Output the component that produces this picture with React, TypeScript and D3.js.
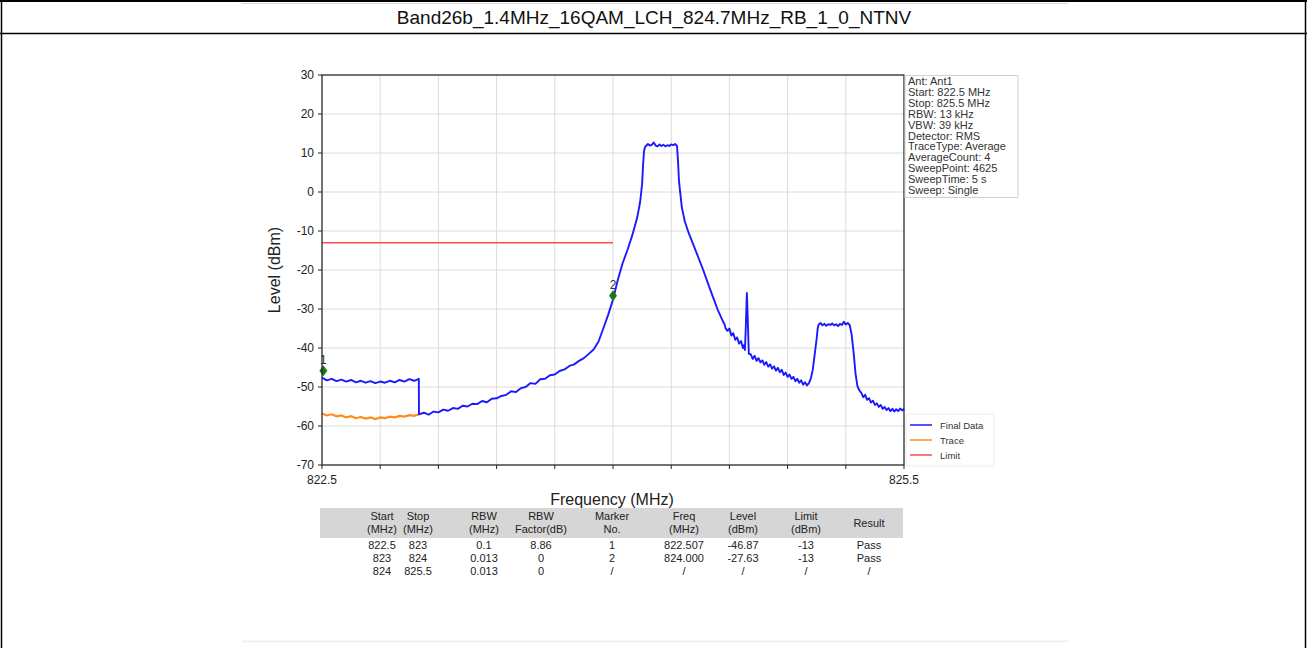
import React from "react";
import * as d3 from "d3";

const TITLE = "Band26b_1.4MHz_16QAM_LCH_824.7MHz_RB_1_0_NTNV";

const yTicks = [30, 20, 10, 0, -10, -20, -30, -40, -50, -60, -70];
const xTicks = [822.5, 822.8, 823.1, 823.4, 823.7, 824.0, 824.3, 824.6, 824.9, 825.2, 825.5];
const xTickLabels = ["822.5", "", "", "", "", "", "", "", "", "", "825.5"];

// Final Data (blue) – frequency MHz, level dBm
const finalData: [number, number][] = [
  [822.5, -47.6], [822.525, -48.3], [822.55, -47.9], [822.575, -48.5], [822.6, -48.1],
  [822.625, -48.6], [822.65, -48.2], [822.675, -48.8], [822.7, -48.4], [822.725, -48.9],
  [822.75, -48.5], [822.775, -49.0], [822.8, -48.6], [822.825, -48.9], [822.85, -48.4],
  [822.875, -48.8], [822.9, -48.2], [822.925, -48.6], [822.95, -48.0], [822.975, -48.4],
  [822.999, -47.9],
  [823.0, -57.0], [823.025, -56.6], [823.05, -57.1], [823.075, -56.3], [823.1, -56.5],
  [823.125, -55.8], [823.15, -56.1], [823.175, -55.4], [823.2, -55.6], [823.225, -54.8],
  [823.25, -55.0], [823.275, -54.3], [823.3, -54.4], [823.325, -53.6], [823.35, -53.9],
  [823.375, -53.0], [823.4, -52.9], [823.425, -52.3], [823.45, -52.0], [823.475, -51.1],
  [823.5, -51.3], [823.525, -50.3], [823.55, -50.0], [823.575, -49.0], [823.6, -49.2],
  [823.625, -48.0], [823.65, -47.9], [823.675, -47.0], [823.7, -46.8], [823.725, -45.9],
  [823.75, -45.5], [823.775, -44.6], [823.8, -44.2], [823.825, -43.3], [823.85, -42.6],
  [823.875, -41.5], [823.9, -40.4], [823.925, -38.4], [823.95, -35.0], [823.975, -31.5],
  [824.0, -27.6], [824.025, -22.5], [824.05, -18.2], [824.075, -14.8], [824.1, -11.0],
  [824.125, -6.5], [824.14, -2.5], [824.15, 2.0], [824.155, 7.0], [824.16, 10.5],
  [824.165, 11.5], [824.17, 11.8], [824.18, 12.3], [824.19, 11.9], [824.2, 12.1],
  [824.21, 12.7], [824.22, 11.9], [824.23, 11.7], [824.24, 12.2], [824.25, 11.8],
  [824.26, 12.1], [824.27, 11.7], [824.28, 12.0], [824.29, 11.8], [824.3, 12.2],
  [824.31, 12.0], [824.32, 12.3], [824.33, 11.8], [824.335, 8.0], [824.34, 3.0],
  [824.345, 0.5], [824.355, -4.0], [824.37, -7.5], [824.39, -10.5], [824.41, -13.0],
  [824.44, -16.8], [824.465, -20.0], [824.49, -23.5], [824.515, -26.9], [824.54, -30.2],
  [824.565, -33.0], [824.575, -33.9], [824.58, -34.9], [824.59, -35.6], [824.6, -35.0],
  [824.61, -36.8], [824.62, -36.2], [824.63, -37.9], [824.64, -37.3], [824.65, -38.9],
  [824.66, -38.2], [824.67, -40.0], [824.675, -39.3], [824.68, -40.5], [824.685, -34.0],
  [824.69, -25.9], [824.695, -33.0], [824.7, -41.5], [824.71, -41.6], [824.72, -42.8],
  [824.73, -42.0], [824.74, -43.3], [824.75, -42.6], [824.76, -43.7], [824.77, -43.2],
  [824.78, -44.3], [824.79, -43.6], [824.8, -44.8], [824.81, -44.2], [824.82, -45.3],
  [824.83, -44.7], [824.84, -45.8], [824.85, -45.1], [824.86, -46.2], [824.87, -45.6],
  [824.88, -46.9], [824.89, -46.3], [824.9, -47.4], [824.91, -46.8], [824.92, -47.9],
  [824.93, -47.4], [824.94, -48.5], [824.95, -47.9], [824.96, -48.9], [824.97, -48.3],
  [824.98, -49.4], [824.99, -48.8], [825.0, -49.6], [825.01, -49.0], [825.02, -47.8],
  [825.03, -45.5], [825.04, -41.5], [825.05, -37.5], [825.055, -35.0], [825.06, -34.0],
  [825.07, -33.6], [825.08, -34.2], [825.09, -33.8], [825.1, -34.3], [825.11, -33.9],
  [825.12, -34.1], [825.13, -33.7], [825.14, -34.2], [825.15, -33.9], [825.16, -34.4],
  [825.17, -33.8], [825.18, -34.1], [825.19, -33.3], [825.2, -34.0], [825.21, -33.6],
  [825.22, -34.1], [825.23, -36.5], [825.24, -41.0], [825.25, -46.5], [825.26, -49.8],
  [825.27, -50.9], [825.28, -51.5], [825.29, -52.6], [825.3, -52.0], [825.31, -53.3],
  [825.32, -52.9], [825.33, -54.0], [825.34, -53.5], [825.35, -54.6], [825.36, -54.2],
  [825.37, -55.1], [825.38, -54.6], [825.39, -55.6], [825.4, -55.1], [825.41, -55.9],
  [825.42, -55.4], [825.43, -56.2], [825.44, -55.6], [825.45, -56.3], [825.46, -55.7],
  [825.47, -56.2], [825.48, -55.5], [825.49, -56.0], [825.5, -55.6],
];

// Trace (orange)
const traceData: [number, number][] = [
  [822.5, -56.8], [822.525, -57.3], [822.55, -57.0], [822.575, -57.5], [822.6, -57.3],
  [822.625, -57.8], [822.65, -57.5], [822.675, -58.0], [822.7, -57.7], [822.725, -58.1],
  [822.75, -57.8], [822.775, -58.2], [822.8, -57.8], [822.825, -58.0], [822.85, -57.6],
  [822.875, -57.8], [822.9, -57.4], [822.925, -57.6], [822.95, -57.2], [822.975, -57.4],
  [823.0, -57.0],
];

// Limit (red)
const limitData: [number, number][] = [[822.5, -13], [824.0, -13]];

const markerNo = [1, 2];
const markerFreq = [822.507, 824.0];
const markerLevel = [-46.87, -27.63];

const infoLines = [
  "Ant: Ant1",
  "Start: 822.5 MHz",
  "Stop: 825.5 MHz",
  "RBW: 13 kHz",
  "VBW: 39 kHz",
  "Detector: RMS",
  "TraceType: Average",
  "AverageCount: 4",
  "SweepPoint: 4625",
  "SweepTime: 5 s",
  "Sweep: Single",
];

const legendLabels = ["Final Data", "Trace", "Limit"];
const legendColors = ["#1a1aff", "#ff8c1a", "#ff4d4d"];

const tableHeader: string[][] = [
  ["Start", "(MHz)"], ["Stop", "(MHz)"], ["RBW", "(MHz)"], ["RBW", "Factor(dB)"],
  ["Marker", "No."], ["Freq", "(MHz)"], ["Level", "(dBm)"], ["Limit", "(dBm)"], ["Result"],
];
const tableRows: string[][] = [
  ["822.5", "823", "0.1", "8.86", "1", "822.507", "-46.87", "-13", "Pass"],
  ["823", "824", "0.013", "0", "2", "824.000", "-27.63", "-13", "Pass"],
  ["824", "825.5", "0.013", "0", "/", "/", "/", "/", "/"],
];

const FONT = "'Liberation Sans', Arial, sans-serif";
const COL_X = [382, 418, 484, 541, 612, 684, 743, 806, 869];

export default function App() {
  const W = 1307, H = 648;
  const x = d3.scaleLinear().domain([822.5, 825.5]).range([322, 904]);
  const y = d3.scaleLinear().domain([-70, 30]).range([465, 75]);
  const line = d3.line<[number, number]>().x((d) => x(d[0])).y((d) => y(d[1]));

  return (
    <div style={{ position: "absolute", left: 0, top: 0 }}>
      <svg width={W} height={H} style={{ display: "block", background: "#fff" }} fontFamily={FONT}>
        {/* outer document table */}
        <line x1={0} x2={W} y1={1} y2={1} stroke="#000" strokeWidth={2} />
        <line x1={0} x2={W} y1={33.5} y2={33.5} stroke="#000" strokeWidth={1.5} />
        <line x1={1.5} x2={1.5} y1={0} y2={H} stroke="#000" strokeWidth={1.5} />
        <line x1={1305.5} x2={1305.5} y1={0} y2={H} stroke="#000" strokeWidth={1.5} />
        <line x1={242} x2={1068} y1={3.5} y2={3.5} stroke="#d8d8d8" strokeWidth={1} />
        <line x1={242} x2={1068} y1={641.5} y2={641.5} stroke="#f0f0f0" strokeWidth={2} />
        <text x={654} y={24} textAnchor="middle" fontSize={19} fill="#111">{TITLE}</text>

        {/* grid */}
        {yTicks.map((t) => (
          <line key={"gy" + t} x1={322} x2={904} y1={y(t)} y2={y(t)} stroke="#dcdcdc" strokeWidth={1} />
        ))}
        {xTicks.map((t) => (
          <line key={"gx" + t} x1={x(t)} x2={x(t)} y1={75} y2={465} stroke="#dcdcdc" strokeWidth={1} />
        ))}

        {/* traces */}
        <path d={line(traceData) || ""} fill="none" stroke="#ff8c1a" strokeWidth={2.2} />
        <path d={line(finalData) || ""} fill="none" stroke="#1a1aff" strokeWidth={1.9} strokeLinejoin="round" />
        <path d={line(limitData) || ""} fill="none" stroke="#ff4d4d" strokeWidth={1.5} />

        {/* markers */}
        {markerNo.map((n, i) => {
          const cx = x(markerFreq[i]);
          const cy = y(markerLevel[i]) - 4;
          return (
            <g key={"m" + n}>
              <path d={`M${cx},${cy - 5.5}L${cx + 4},${cy}L${cx},${cy + 5.5}L${cx - 4},${cy}Z`} fill="#1a7a1a" />
              <text x={cx} y={cy - 7} textAnchor="middle" fontSize={12} fill="#333">{n}</text>
            </g>
          );
        })}

        {/* frame */}
        <rect x={322} y={75} width={582} height={390} fill="none" stroke="#222" strokeWidth={1.2} />

        {/* y axis */}
        {yTicks.map((t) => (
          <g key={"yt" + t}>
            <line x1={318} x2={322} y1={y(t)} y2={y(t)} stroke="#222" />
            <text x={314} y={y(t) + 4} textAnchor="end" fontSize={12} fill="#222">{t}</text>
          </g>
        ))}
        {/* x axis */}
        {xTicks.map((t, i) => (
          <g key={"xt" + t}>
            <line x1={x(t)} x2={x(t)} y1={465} y2={469} stroke="#222" />
            {xTickLabels[i] && (
              <text x={x(t)} y={484} textAnchor="middle" fontSize={12} fill="#222">{xTickLabels[i]}</text>
            )}
          </g>
        ))}
        <text transform={`translate(280,270) rotate(-90)`} textAnchor="middle" fontSize={16} fill="#222">Level (dBm)</text>
        <text x={612} y={505} textAnchor="middle" fontSize={16} fill="#222">Frequency (MHz)</text>

        {/* info box */}
        <rect x={905} y={75.5} width={113} height={122} fill="#fff" stroke="#d0d0d0" strokeWidth={1} />
        {infoLines.map((s, i) => (
          <text key={"inf" + i} x={908} y={85 + i * 10.9} fontSize={11} fill="#333">{s}</text>
        ))}

        {/* legend */}
        <rect x={906} y={414} width={88} height={52} rx={2} fill="#fff" stroke="#ececec" />
        {legendLabels.map((s, i) => (
          <g key={"lg" + i}>
            <line x1={910} x2={932} y1={425 + i * 15} y2={425 + i * 15} stroke={legendColors[i]} strokeWidth={1.5} />
            <text x={940} y={428.5 + i * 15} fontSize={9.5} fill="#333">{s}</text>
          </g>
        ))}

        {/* table */}
        <rect x={320} y={508} width={583} height={30} fill="#d6d6d6" />
        {tableHeader.map((h, i) =>
          h.length === 2 ? (
            <g key={"th" + i}>
              <text x={COL_X[i]} y={520} textAnchor="middle" fontSize={11} fill="#222">{h[0]}</text>
              <text x={COL_X[i]} y={533} textAnchor="middle" fontSize={11} fill="#222">{h[1]}</text>
            </g>
          ) : (
            <text key={"th" + i} x={COL_X[i]} y={527} textAnchor="middle" fontSize={11} fill="#222">{h[0]}</text>
          )
        )}
        {tableRows.map((r, ri) =>
          r.map((c, ci) => (
            <text key={"td" + ri + "-" + ci} x={COL_X[ci]} y={549 + ri * 13} textAnchor="middle" fontSize={11} fill="#222">{c}</text>
          ))
        )}
      </svg>
    </div>
  );
}
